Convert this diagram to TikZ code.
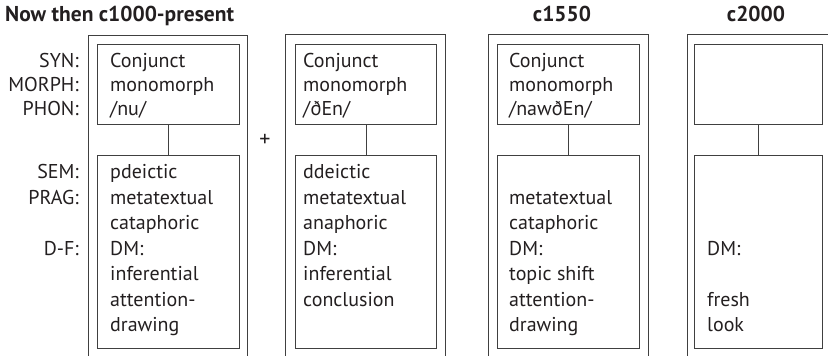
\documentclass[tikz,border=0pt]{standalone}
\usepackage{fontspec}
\setmainfont{PT Sans}
\definecolor{ink}{HTML}{231F20}
\definecolor{rule}{HTML}{404040}
\begin{document}
\begin{tikzpicture}[x=1pt,y=-1pt,
  frame/.style={draw=rule, line width=0.9pt},
  cell/.style={draw=rule, line width=0.8pt, anchor=north west, inner sep=0pt},
  link/.style={draw=rule, line width=0.8pt},
  upper/.style={text=ink, inner sep=0pt, font=\fontsize{20}{23.8}\selectfont},
  lower/.style={text=ink, inner sep=0pt, font=\fontsize{20}{25.5}\selectfont},
  entry/.style={anchor=north west, align=left},
  label/.style={anchor=north east, align=right},
  head/.style={text=ink, inner sep=0pt, anchor=base, font=\fontsize{21.5}{24}\selectfont\bfseries}]
\useasboundingbox (0,0) rectangle (828,356);

% column headings
\node[head, anchor=base west] (h1) at (5,21.5) {Now then c1000-present};
\node[head] (h3) at (562,21.5) {c1550};
\node[head] (h4) at (756,21.5) {c2000};

% level labels
\node[upper, label] (lt) at (79,50.8) {\strut SYN:\\MORPH:\\PHON:};
\node[lower, label] (lb) at (79,160.6) {\strut SEM:\\PRAG:\\\strut\\D-F:};

% outer frames, open at the bottom
\draw[frame] (88,360) |- (247,35) -- (247,360);
\draw[frame] (285.7,360) |- (445.7,34.5) -- (445.7,360);
\draw[frame] (488,360) |- (648,34.5) -- (648,360);
\draw[frame] (687,360) |- (830,34.5) -- (830,360);

% form cells
\node[cell, minimum width=142, minimum height=80.5] (t1) at (97,43.5) {};
\node[cell, minimum width=141.6, minimum height=80.5] (t2) at (294.7,43.5) {};
\node[cell, minimum width=142, minimum height=80.5] (t3) at (496.7,43.5) {};
\node[cell, minimum width=127.4, minimum height=80.5] (t4) at (694.3,43.5) {};

% meaning cells
\node[cell, minimum width=142, minimum height=192.2] (b1) at (97,155.3) {};
\node[cell, minimum width=141.6, minimum height=192.2] (b2) at (294.7,155.3) {};
\node[cell, minimum width=142, minimum height=192.2] (b3) at (496.7,155.3) {};
\node[cell, minimum width=127.4, minimum height=192.2] (b4) at (694.3,155.3) {};

% links between form and meaning
\draw[link] (t1.south) -- (b1.north);
\draw[link] (t2.south) -- (b2.north);
\draw[link] (t3.south) -- (b3.north);
\draw[link] (t4.south) -- (b4.north);

% cell texts
\node[upper, entry] (f1) at (110,50.8) {\strut Conjunct\\monomorph\\/nu/};
\node[upper, entry] (f2) at (303,50.8) {\strut Conjunct\\monomorph\\/ðEn/};
\node[upper, entry] (f3) at (509,50.8) {\strut Conjunct\\monomorph\\/nawðEn/};

\node[lower, entry] (m1) at (110,160.6) {\strut pdeictic\\metatextual\\cataphoric\\DM:\\inferential\\attention-\\drawing};
\node[lower, entry] (m2) at (303,160.6) {\strut ddeictic\\metatextual\\anaphoric\\DM:\\inferential\\conclusion};
\node[lower, entry] (m3) at (509,160.6) {\strut\\metatextual\\cataphoric\\DM:\\topic shift\\attention-\\drawing};
\node[lower, entry] (m4) at (707,160.6) {\strut\\\strut\\\strut\\DM:\\\strut\\fresh\\look};

% combination sign
\node[text=ink, inner sep=0pt, font=\fontsize{22}{24}\selectfont] (plus) at (265,140) {+};
\end{tikzpicture}
\end{document}
